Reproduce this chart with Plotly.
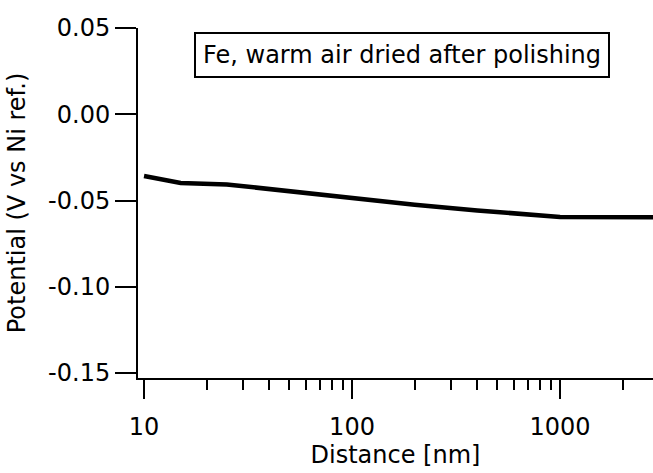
import plotly.graph_objects as go

distance_nm = [10, 15, 25, 50, 100, 200, 400, 1000, 2800]
potential_v = [-0.0358, -0.0398, -0.0407, -0.0446, -0.0487, -0.0524, -0.0558, -0.0595, -0.0597]
y_tick_vals = [0.05, 0.0, -0.05, -0.10, -0.15]
y_tick_text = ["0.05", "0.00", "-0.05", "-0.10", "-0.15"]
x_tick_vals = [10, 100, 1000]
x_tick_text = ["10", "100", "1000"]

FONT = "DejaVu Sans, Arial, sans-serif"

fig = go.Figure()
fig.add_trace(go.Scatter(x=distance_nm, y=potential_v, mode="lines",
                         line=dict(color="black", width=4.5), showlegend=False))

fig.update_layout(
    width=653, height=473,
    margin=dict(l=138, r=0, t=28, b=95),
    paper_bgcolor="white", plot_bgcolor="white",
    font=dict(family=FONT, size=24, color="black"),
    xaxis=dict(
        type="log", range=[0.971, 3.447],
        tickvals=x_tick_vals, ticktext=x_tick_text,
        ticks="outside", ticklen=19, tickwidth=2, tickcolor="black",
        ticklabelstandoff=7,
        showline=True, linecolor="black", linewidth=2,
        showgrid=False, zeroline=False,
        minor=dict(ticks="outside", ticklen=10, tickwidth=2, tickcolor="black",
                   dtick="D1", showgrid=False),
        title=dict(text="Distance [nm]", font=dict(size=24), standoff=0),
    ),
    yaxis=dict(
        range=[-0.1529, 0.05],
        tickvals=y_tick_vals, ticktext=y_tick_text,
        ticks="outside", ticklen=21, tickwidth=2, tickcolor="black",
        showline=True, linecolor="black", linewidth=2,
        showgrid=False, zeroline=False,
        title=dict(text="Potential (V vs Ni ref.)", font=dict(size=24), standoff=16),
    ),
    annotations=[dict(
        text="Fe, warm air dried after polishing",
        xref="paper", yref="paper", x=0.5117, y=0.923,
        xanchor="center", yanchor="middle", showarrow=False,
        font=dict(size=24, family=FONT, color="black"),
        bordercolor="black", borderwidth=2, borderpad=7, bgcolor="white",
    )],
)

fig.write_html("out.html")
